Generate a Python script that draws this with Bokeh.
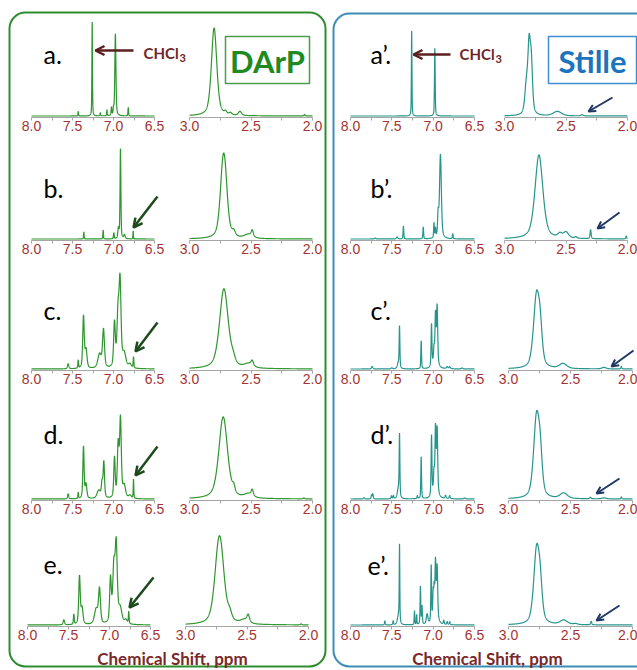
import numpy as np
from bokeh.plotting import figure
from bokeh.models import (Range1d, LinearAxis, FixedTicker, PrintfTickFormatter,
                          Label, Arrow, OpenHead, BoxAnnotation)
from bokeh.embed import file_html
from bokeh.resources import INLINE

# ---------------- data: 1H NMR peak tables ----------------
# each entry: (chemical shift / ppm, intensity / a.u., half width / ppm)
AROM_RANGE = (8.0, 6.5)
ALIPH_RANGE = (3.0, 2.0)
AROM_MAJOR = [8.0, 7.5, 7.0, 6.5]
AROM_MINOR = [7.75, 7.25, 6.75]
ALIPH_MAJOR = [3.0, 2.5, 2.0]
ALIPH_MINOR = [2.75, 2.25]

DARP_LABELS = ["a.", "b.", "c.", "d.", "e."]
STILLE_LABELS = ["a\u2019.", "b\u2019.", "c\u2019.", "d\u2019.", "e\u2019."]
TITLE_DARP = "DArP"
TITLE_STILLE = "Stille"
SOLVENT = "CHCl"
SOLVENT_SUB = "3"
XLABEL = "Chemical Shift, ppm"

darp_a_arom = [(7.43, 4.5, 0.004), (7.26, 94, 0.004), (7.16, 3, 0.005), (7.08, 6, 0.004),
               (7.025, 8, 0.005), (7.0, 6, 0.005), (6.977, 82, 0.008), (6.82, 8.5, 0.004)]
darp_a_ali = [(2.80, 88, 0.026), (2.707, 2.5, 0.012), (2.667, 2, 0.012), (2.59, 4, 0.015),
              (2.065, 1.5, 0.005)]
darp_b_arom = [(7.362, 7, 0.004), (7.126, 9, 0.004), (6.996, 6, 0.005), (6.94, 10, 0.008),
               (6.915, 90, 0.006), (6.866, 4, 0.01), (6.76, 8, 0.003)]
darp_b_ali = [(2.73, 50, 0.027), (2.712, 44, 0.027), (2.64, 5, 0.015), (2.52, 4, 0.04),
              (2.49, 6, 0.01)]
darp_c_arom = [(7.553, 5, 0.01), (7.43, 8, 0.005), (7.366, 52, 0.011), (7.335, 18, 0.014),
               (7.17, 14, 0.025), (7.122, 38, 0.014), (6.988, 44, 0.012), (6.945, 52, 0.015),
               (6.92, 82, 0.014), (6.87, 14, 0.025), (6.80, 4, 0.02), (6.756, 11, 0.005)]
darp_c_ali = [(2.72, 80, 0.042), (2.645, 5, 0.02), (2.52, 4, 0.04), (2.49, 5, 0.012)]
darp_d_arom = [(7.553, 5, 0.008), (7.43, 6, 0.005), (7.366, 52, 0.009), (7.335, 14, 0.012),
               (7.18, 8, 0.025), (7.14, 14, 0.01), (7.118, 36, 0.01), (6.988, 40, 0.01),
               (6.943, 52, 0.012), (6.915, 78, 0.012), (6.87, 12, 0.02), (6.80, 3, 0.02),
               (6.756, 19, 0.004)]
darp_d_ali = [(2.726, 82, 0.042), (2.64, 6, 0.012), (2.52, 4, 0.04), (2.49, 6, 0.01),
              (2.07, 1, 0.005)]
darp_e_arom = [(7.557, 5, 0.01), (7.435, 10, 0.006), (7.366, 48, 0.011), (7.335, 16, 0.014),
               (7.162, 15, 0.025), (7.122, 34, 0.014), (6.988, 44, 0.012), (6.947, 54, 0.016),
               (6.918, 76, 0.015), (6.87, 15, 0.025), (6.80, 4, 0.02), (6.765, 12, 0.005)]
darp_e_ali = [(2.735, 48, 0.038), (2.712, 48, 0.038), (2.64, 7, 0.02), (2.52, 4, 0.04),
              (2.49, 7, 0.012), (2.06, 1, 0.005)]

stille_a_arom = [(7.26, 85, 0.004), (6.98, 68, 0.005)]
stille_a_ali = [(2.822, 28, 0.015), (2.80, 62, 0.012), (2.782, 48, 0.012), (2.57, 4.5, 0.04),
                (2.37, 1.2, 0.01)]
stille_b_arom = [(7.70, 1, 0.01), (7.436, 2, 0.01), (7.36, 13, 0.005), (7.12, 12, 0.005),
                 (6.99, 15, 0.005), (6.972, 9, 0.005), (6.94, 22, 0.008), (6.912, 84, 0.013),
                 (6.763, 5, 0.005)]
stille_b_ali = [(2.72, 84, 0.038), (2.55, 4, 0.02), (2.50, 6, 0.025), (2.42, 1.5, 0.01),
                (2.30, 9, 0.005), (2.01, 3, 0.004)]
stille_c_arom = [(7.738, 2.5, 0.01), (7.5, 1, 0.01), (7.42, 6, 0.015), (7.407, 40, 0.005),
                 (7.145, 28, 0.005), (7.02, 42, 0.006), (6.99, 12, 0.006), (6.975, 10, 0.03),
                 (6.972, 44, 0.007), (6.952, 56, 0.008), (6.83, 2, 0.01), (6.80, 2, 0.01),
                 (6.65, 1, 0.01)]
stille_c_ali = [(2.775, 70, 0.028), (2.745, 30, 0.02), (2.56, 5, 0.035), (2.23, 1.5, 0.02),
                (2.09, 2.5, 0.004)]
stille_d_arom = [(7.838, 1.2, 0.01), (7.745, 4, 0.006), (7.73, 5, 0.006), (7.504, 3, 0.006),
                 (7.48, 3, 0.006), (7.42, 10, 0.015), (7.407, 60, 0.005), (7.19, 3, 0.006),
                 (7.145, 42, 0.005), (7.02, 60, 0.006), (6.99, 16, 0.006), (6.975, 12, 0.03),
                 (6.972, 58, 0.007), (6.952, 62, 0.008), (6.85, 3, 0.008), (6.80, 3, 0.008),
                 (6.62, 1, 0.01)]
stille_d_ali = [(2.775, 78, 0.027), (2.745, 35, 0.02), (2.555, 5.5, 0.035), (2.34, 1.5, 0.006),
                (2.23, 1, 0.02), (2.09, 2, 0.004)]
stille_e_arom = [(7.585, 4, 0.005), (7.484, 4, 0.005), (7.42, 9, 0.015), (7.407, 76, 0.004),
                 (7.226, 14, 0.004), (7.20, 10, 0.004), (7.154, 38, 0.005), (7.135, 18, 0.005),
                 (7.073, 10, 0.012), (7.024, 56, 0.005), (7.00, 24, 0.006), (6.988, 24, 0.006),
                 (6.975, 12, 0.03), (6.972, 50, 0.007), (6.952, 50, 0.008), (6.872, 4, 0.006),
                 (6.83, 3, 0.006), (6.80, 3, 0.006)]
stille_e_ali = [(2.774, 72, 0.027), (2.745, 30, 0.02), (2.554, 4.5, 0.035), (2.46, 1, 0.02),
                (2.333, 3.5, 0.005)]

DARP_AROM = [darp_a_arom, darp_b_arom, darp_c_arom, darp_d_arom, darp_e_arom]
DARP_ALI = [darp_a_ali, darp_b_ali, darp_c_ali, darp_d_ali, darp_e_ali]
STILLE_AROM = [stille_a_arom, stille_b_arom, stille_c_arom, stille_d_arom, stille_e_arom]
STILLE_ALI = [stille_a_ali, stille_b_ali, stille_c_ali, stille_d_ali, stille_e_ali]

# ---------------- layout / style ----------------
W, H = 637, 670
AXIS_Y = [117, 240, 370, 500, 626]          # page pixel row of each axis line
BASE_OFF = 1.5                               # baseline sits just above axis
# pixel columns of the first / last axis value of each panel
XPIX = {
    ("darp", "arom"): [(31, 154)] * 4 + [(27, 150)],
    ("darp", "ali"): [(189, 312)] * 4 + [(185, 308)],
    ("stille", "arom"): [(350, 474)] * 5,
    ("stille", "ali"): [(504, 627)] * 2 + [(508, 632)] * 3,
}
GREEN = "#2e962e"
TEAL = "#26958c"
TICK_RED = "#a33434"
AXIS_GREY = "#a6a6a6"


def Y(py):
    return H - py


def line_shape(peaks, lo, hi, n=1600, eta=0.5):
    x = np.linspace(hi, lo, n)
    y = np.zeros_like(x)
    for x0, h, w in peaks:
        u = ((x - x0) / w) ** 2
        y += h * (eta / (1.0 + u) + (1 - eta) * np.exp(-np.log(2) * u))
    return x, y


p = figure(width=W, height=H, output_backend="svg", toolbar_location=None,
           x_range=Range1d(0, W), y_range=Range1d(0, H), min_border=0,
           x_axis_type=None, y_axis_type=None, title=None)
p.outline_line_color = None
p.background_fill_color = "white"
p.border_fill_color = "white"


def add_box(left, right, top, bottom, color, width, radius):
    b = BoxAnnotation(left=left, right=right, top=Y(top), bottom=Y(bottom),
                      fill_alpha=0, fill_color=None, line_color=color,
                      line_width=width, line_alpha=1)
    try:
        b.border_radius = radius
    except Exception:
        pass
    p.add_layout(b)


add_box(9, 325, 12, 666, "#2f8c2f", 2, 16)
add_box(333, 680, 13, 666, "#3d8db5", 2, 16)
add_box(225, 309, 36, 83, "#4a9e4a", 1.5, 0)
add_box(548, 636, 36, 83, "#3f8fd0", 1.5, 0)

for side, color, aroms, alis in (("darp", GREEN, DARP_AROM, DARP_ALI),
                                 ("stille", TEAL, STILLE_AROM, STILLE_ALI)):
    for row in range(5):
        for region, peaks, rng, major, minor in (
                ("arom", aroms[row], AROM_RANGE, AROM_MAJOR, AROM_MINOR),
                ("ali", alis[row], ALIPH_RANGE, ALIPH_MAJOR, ALIPH_MINOR)):
            name = f"{side}_{region}_{row}"
            px0, px1 = XPIX[(side, region)][row]
            p0, p1 = rng
            k = (p1 - p0) / (px1 - px0)
            p.extra_x_ranges[name] = Range1d(start=p0 - px0 * k, end=p0 + (W - px0) * k)
            base = AXIS_Y[row] - BASE_OFF
            p.extra_y_ranges[name] = Range1d(start=base - H, end=base)
            xs, ys = line_shape(peaks, min(rng), max(rng))
            p.line(xs, ys, x_range_name=name, y_range_name=name,
                   line_color=color, line_width=1.2)
            ax = LinearAxis(x_range_name=name, y_range_name=name,
                            fixed_location=-BASE_OFF,
                            bounds=(min(rng), max(rng)),
                            ticker=FixedTicker(ticks=major, minor_ticks=minor),
                            formatter=PrintfTickFormatter(format="%.1f"),
                            axis_line_color=AXIS_GREY, axis_line_width=1,
                            major_tick_line_color=AXIS_GREY, minor_tick_line_color=AXIS_GREY,
                            major_tick_in=0, major_tick_out=3,
                            minor_tick_in=0, minor_tick_out=3,
                            major_label_standoff=0,
                            major_label_text_font="Liberation Sans",
                            major_label_text_font_size="14px",
                            major_label_text_color=TICK_RED)
            p.add_layout(ax, "below")

# panel letters
for row in range(5):
    by = [53, 187, 309, 433, 564][row]
    p.add_layout(Label(x=43, y=Y(by), text=DARP_LABELS[row], text_font="Lato",
                       text_font_size="25px", text_color="black",
                       text_baseline="alphabetic"))
    p.add_layout(Label(x=[370, 370, 370, 370, 367][row], y=Y(by), text=STILLE_LABELS[row],
                       text_font="Lato", text_font_size="25px", text_color="black",
                       text_baseline="alphabetic"))

# titles
p.add_layout(Label(x=267, y=Y(60), text=TITLE_DARP, text_font="Lato", text_font_style="bold",
                   text_font_size="31px", text_color="#1f8a1f", text_align="center",
                   text_baseline="middle"))
p.add_layout(Label(x=592, y=Y(60), text=TITLE_STILLE, text_font="Lato", text_font_style="bold",
                   text_font_size="31px", text_color="#1c75bc", text_align="center",
                   text_baseline="middle"))

# solvent labels and arrows
for tx, ty, a0, a1, ay in ((143, 52, 133, 95, 50), (459, 53, 450, 413, 54)):
    p.add_layout(Label(x=tx, y=Y(ty), text=SOLVENT, text_font="Lato", text_font_style="bold",
                       text_font_size="15px", text_color="#6e2626", text_baseline="middle"))
    p.add_layout(Label(x=tx + 36, y=Y(ty + 5), text=SOLVENT_SUB, text_font="Lato",
                       text_font_style="bold", text_font_size="11px", text_color="#6e2626",
                       text_baseline="middle"))
    p.add_layout(Arrow(x_start=a0, y_start=Y(ay), x_end=a1, y_end=Y(ay),
                       line_color="#5c1f1f", line_width=2.5,
                       end=OpenHead(size=9, line_width=2.5, line_color="#5c1f1f")))

# arrows pointing at end-group signals
for x0, y0, x1, y1 in ((157, 196, 133, 227), (157, 322, 135, 351),
                       (157, 446, 135, 475), (153, 577, 129, 607)):
    p.add_layout(Arrow(x_start=x0, y_start=Y(y0), x_end=x1, y_end=Y(y1),
                       line_color="#1d4a1d", line_width=2.5,
                       end=OpenHead(size=9, line_width=2.5, line_color="#1d4a1d")))
for x0, y0, x1, y1 in ((612, 97, 588, 111), (619, 212, 597, 228), (633, 350, 611, 366),
                       (619, 478, 596, 493), (619, 605, 596, 620)):
    p.add_layout(Arrow(x_start=x0, y_start=Y(y0), x_end=x1, y_end=Y(y1),
                       line_color="#1f3864", line_width=2,
                       end=OpenHead(size=7, line_width=2, line_color="#1f3864")))

# axis titles
for cx in (172, 487):
    p.add_layout(Label(x=cx, y=Y(658), text=XLABEL, text_font="Lato", text_font_style="bold",
                       text_font_size="17px", text_color="#7a2828", text_align="center",
                       text_baseline="middle"))

open("out.html", "w").write(file_html(p, INLINE))
